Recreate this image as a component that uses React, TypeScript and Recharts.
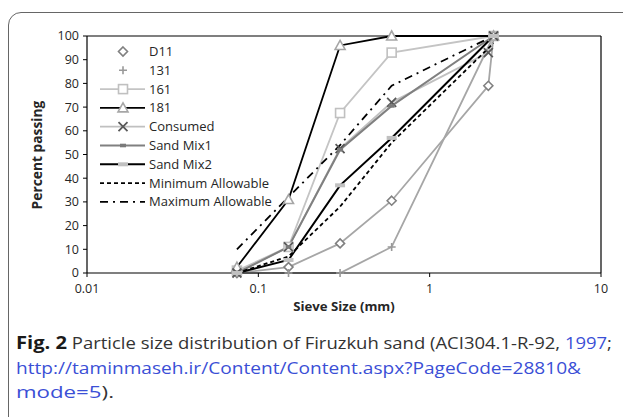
import React from "react";
import { LineChart, Line, XAxis, YAxis, ReferenceLine } from "recharts";

// ---- data ----
const sieveMain = [0.075, 0.15, 0.3, 0.6, 2.36];
const sieveD11 = [0.075, 0.15, 0.3, 0.6, 2.2, 2.36];
const sieveConsumed = [0.075, 0.15, 0.3, 0.6, 2.2, 2.36];
const d11 = [0, 2.5, 12.5, 30.5, 79, 100];
const s131 = [0, 0, 0, 11, 100];
const s161 = [1, 11, 67.5, 93, 100];
const s181 = [2.5, 31, 96, 100, 100];
const consumed = [0, 11, 52.5, 72, 93, 100];
const sandMix1 = [0, 11, 52, 70.5, 100];
const sandMix2 = [0, 5.5, 37, 57, 100];
const minAllowable = [0, 7, 28, 55, 97];
const maxAllowable = [10, 32, 54, 79, 100];
const xTicks = [0.01, 0.1, 1, 10];
const yTicks = [0, 10, 20, 30, 40, 50, 60, 70, 80, 90, 100];

const zip = (xs: number[], ys: number[]) => xs.map((x, i) => ({ x, y: ys[i] }));

const FONT = "'Open Sans', 'Noto Sans', sans-serif";

type Shape = "diamond" | "plus" | "square" | "triangle" | "x" | "dash" | "bar" | "none";

function marker(shape: Shape, cx: number, cy: number, stroke: string, fill: string, key?: any) {
  switch (shape) {
    case "diamond":
      return <path key={key} d={`M${cx},${cy - 4.5}L${cx + 4.5},${cy}L${cx},${cy + 4.5}L${cx - 4.5},${cy}Z`} stroke={stroke} strokeWidth={1.6} fill={fill} />;
    case "plus":
      return <path key={key} d={`M${cx - 4},${cy}H${cx + 4}M${cx},${cy - 4}V${cy + 4}`} stroke={stroke} strokeWidth={1.6} fill="none" />;
    case "square":
      return <rect key={key} x={cx - 4.5} y={cy - 4.5} width={9} height={9} stroke={stroke} strokeWidth={1.6} fill={fill} />;
    case "triangle":
      return <path key={key} d={`M${cx},${cy - 5}L${cx + 5},${cy + 4}L${cx - 5},${cy + 4}Z`} stroke={stroke} strokeWidth={1.6} fill={fill} />;
    case "x":
      return <path key={key} d={`M${cx - 4.5},${cy - 4.5}L${cx + 4.5},${cy + 4.5}M${cx + 4.5},${cy - 4.5}L${cx - 4.5},${cy + 4.5}`} stroke={stroke} strokeWidth={1.8} fill="none" />;
    case "dash":
      return <rect key={key} x={cx - 3} y={cy - 1.8} width={6} height={3.6} fill={stroke} />;
    case "bar":
      return <rect key={key} x={cx - 5} y={cy - 2} width={10} height={4} fill={stroke} />;
    default:
      return <g key={key} />;
  }
}

const dotFn = (shape: Shape, stroke: string, fill: string) => (p: any) =>
  marker(shape, p.cx, p.cy, stroke, fill, `${shape}-${p.index}`);

interface SeriesDef {
  name: string;
  data: { x: number; y: number }[];
  line: string;
  width: number;
  dash?: string;
  shape: Shape;
  mStroke: string;
  mFill: string;
  legendLine: boolean;
}

const series: SeriesDef[] = [
  { name: "D11", data: zip(sieveD11, d11), line: "#a6a6a6", width: 1.8, shape: "diamond", mStroke: "#808080", mFill: "#fff", legendLine: false },
  { name: "131", data: zip(sieveMain, s131), line: "#a6a6a6", width: 1.8, shape: "plus", mStroke: "#999999", mFill: "#fff", legendLine: false },
  { name: "161", data: zip(sieveMain, s161), line: "#c4c4c4", width: 1.8, shape: "square", mStroke: "#c0c0c0", mFill: "#fff", legendLine: true },
  { name: "181", data: zip(sieveMain, s181), line: "#000000", width: 1.8, shape: "triangle", mStroke: "#a6a6a6", mFill: "#fff", legendLine: true },
  { name: "Consumed", data: zip(sieveConsumed, consumed), line: "#c0c0c0", width: 1.8, shape: "x", mStroke: "#595959", mFill: "none", legendLine: true },
  { name: "Sand Mix1", data: zip(sieveMain, sandMix1), line: "#808080", width: 2, shape: "dash", mStroke: "#7a7a7a", mFill: "#7a7a7a", legendLine: true },
  { name: "Sand Mix2", data: zip(sieveMain, sandMix2), line: "#000000", width: 2, shape: "bar", mStroke: "#c0c0c0", mFill: "#c0c0c0", legendLine: true },
  { name: "Minimum Allowable", data: zip(sieveMain, minAllowable), line: "#000000", width: 1.8, dash: "4 3", shape: "none", mStroke: "#000", mFill: "none", legendLine: true },
  { name: "Maximum Allowable", data: zip(sieveMain, maxAllowable), line: "#000000", width: 1.8, dash: "8 5 2 5", shape: "none", mStroke: "#000", mFill: "none", legendLine: true },
];

const LegendBox = () => (
  <svg width={200} height={175} style={{ position: "absolute", left: 95, top: 40 }}>
    {series.map((s, i) => {
      const cy = 11.5 + i * 18.8;
      return (
        <g key={s.name}>
          {s.legendLine && (
            <line x1={5} x2={50} y1={cy} y2={cy} stroke={s.line} strokeWidth={s.width} strokeDasharray={s.dash} />
          )}
          {marker(s.shape, 28, cy, s.mStroke, s.mFill)}
          <text x={54} y={cy + 4.5} fontFamily={FONT} fontSize={13} fill="#262626">
            {s.name}
          </text>
        </g>
      );
    })}
  </svg>
);

const YLabel = () => (
  <text x={42} y={155} transform="rotate(-90 42 155)" textAnchor="middle" fontFamily={FONT} fontSize={13.8} fontWeight="bold" fill="#262626">
    Percent passing
  </text>
);

const XLabel = () => (
  <text x={344} y={311} textAnchor="middle" fontFamily={FONT} fontSize={13.2} fontWeight="bold" fill="#262626">
    Sieve Size (mm)
  </text>
);

const BLUE = "#3b4fd6";

export default function App() {
  return (
    <div style={{ position: "absolute", left: 0, top: 0, width: 623, height: 417, overflow: "hidden", background: "#fff" }}>
      <div
        style={{
          position: "absolute",
          left: 8,
          top: 12,
          width: 640,
          height: 430,
          border: "1px solid #666",
          borderTopLeftRadius: 13,
          boxSizing: "border-box",
        }}
      />
      <div style={{ position: "absolute", left: 0, top: 0 }}>
        <LineChart width={623} height={320} margin={{ top: 36, right: 22, bottom: 25, left: 27 }}>
          <XAxis
            dataKey="x"
            type="number"
            scale="log"
            domain={[0.01, 10]}
            ticks={xTicks}
            interval={0}
            allowDataOverflow
            height={22}
            tickSize={4}
            tickMargin={7}
            tickFormatter={(v: number) => String(v)}
            axisLine={{ stroke: "#000", strokeWidth: 1.2 }}
            tickLine={{ stroke: "#000" }}
            tick={{ fontFamily: FONT, fontSize: 12.5, fill: "#262626" }}
            label={<XLabel />}
          />
          <YAxis
            type="number"
            domain={[0, 100]}
            ticks={yTicks}
            interval={0}
            width={60}
            tickSize={4}
            tickMargin={4}
            axisLine={{ stroke: "#000", strokeWidth: 1.2 }}
            tickLine={{ stroke: "#000" }}
            tick={{ fontFamily: FONT, fontSize: 12.5, fill: "#262626" }}
            label={<YLabel />}
          />
          <ReferenceLine y={100} stroke="#000" strokeWidth={1.2} ifOverflow="visible" />
          <ReferenceLine x={10} stroke="#000" strokeWidth={1.2} ifOverflow="visible" />
          {series.map((s) => (
            <Line
              key={s.name}
              name={s.name}
              data={s.data}
              dataKey="y"
              type="linear"
              stroke={s.line}
              strokeWidth={s.width}
              strokeDasharray={s.dash}
              dot={s.shape === "none" ? false : dotFn(s.shape, s.mStroke, s.mFill)}
              activeDot={false}
              isAnimationActive={false}
            />
          ))}
        </LineChart>
      </div>
      <LegendBox />
      <svg width={623} height={100} style={{ position: "absolute", left: 0, top: 320 }}>
        <text x={16} y={29} fontFamily={FONT} fontSize={16.5} fill="#333" textLength={596} lengthAdjust="spacingAndGlyphs">
          <tspan fontWeight="bold" fill="#1a1a1a" fontSize={18}>Fig. 2</tspan>
          <tspan>{"  Particle size distribution of Firuzkuh sand (ACI304.1-R-92, "}</tspan>
          <tspan fill={BLUE}>1997</tspan>
          <tspan>;</tspan>
        </text>
        <text x={16} y={54} fontFamily={FONT} fontSize={16.5} fill={BLUE} textLength={565} lengthAdjust="spacingAndGlyphs">
          http://taminmaseh.ir/Content/Content.aspx?PageCode=28810&amp;
        </text>
        <text x={16} y={78} fontFamily={FONT} fontSize={16.5} fill="#333" textLength={98} lengthAdjust="spacingAndGlyphs">
          <tspan fill={BLUE}>mode=5</tspan>
          <tspan>).</tspan>
        </text>
      </svg>
    </div>
  );
}
